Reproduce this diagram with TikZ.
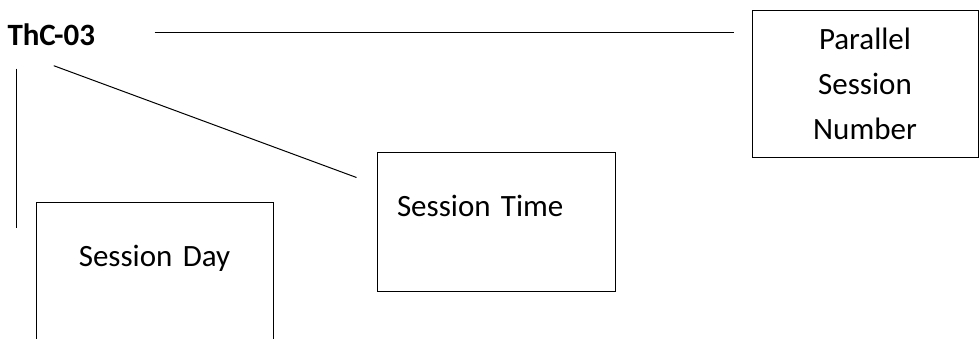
\documentclass[tikz,border=0pt]{standalone}
\usepackage{fontspec}
\setmainfont{Carlito}
\usepackage{tikz}

\begin{document}
\begin{tikzpicture}[x=1pt, y=-1pt, line width=1pt,
    sessbox/.style={draw, line width=1pt, font=\fontsize{31}{45}\selectfont},
    link/.style={line width=1pt}]
  \useasboundingbox (0,0) rectangle (979,338);
  \clip (0,0) rectangle (979,338);

  \node[anchor=base west, inner sep=0pt, font=\fontsize{31}{45}\selectfont\bfseries] (code) at (7,45) {ThC-03}; % code

  \node[sessbox, align=center, minimum width=226pt, minimum height=147pt] (number) at (865,83.5) {Parallel\\Session\\Number}; % parallel
  \node[sessbox, align=left, text width=198pt, inner xsep=20pt, minimum height=139pt,
        text height=22pt, text depth=33pt] (time) at (496,221.5) {Session Time}; % time
  \node[sessbox, align=center, text width=197pt, inner xsep=20pt, minimum height=150pt,
        text height=22pt, text depth=44pt] (day) at (154.5,277) {Session Day}; % day

  \draw[link, shorten <=59pt, shorten >=18pt] ([yshift=2pt]code.east) -- ([yshift=2pt]code.east -| number.west);
  \draw[link, shorten <=23pt, shorten >=-26pt] ([xshift=9pt]code.south west) -- ([xshift=9pt]code.south west |- day.north);
  \draw[link] ([xshift=2.5pt,yshift=-20pt]code.south) -- ([xshift=-20pt,yshift=-26pt]time.north west);
\end{tikzpicture}
\end{document}
